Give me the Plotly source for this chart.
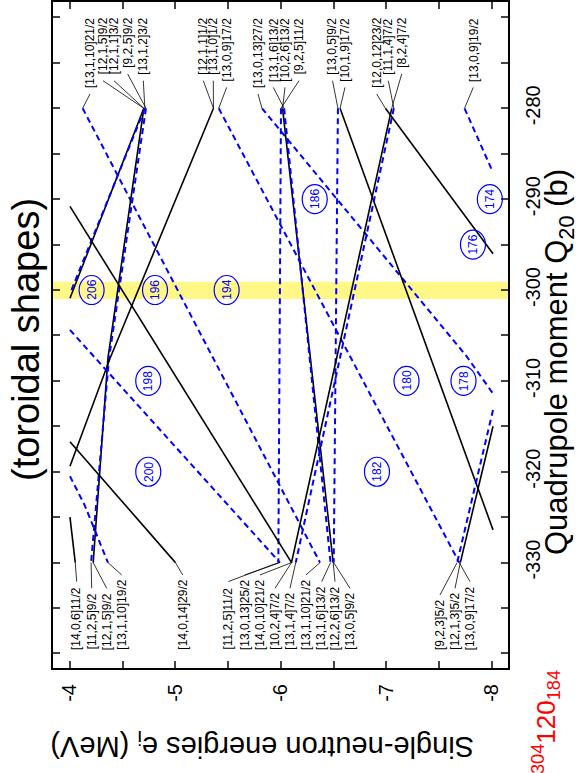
import plotly.graph_objects as go

# ---------------- data ----------------
E_TICKS = [-4, -5, -6, -7, -8]
Q_TICKS = [-330, -320, -310, -300, -290, -280]

# single-neutron levels, points ordered from the Q20=-280 side downwards
lev_E = [
    [-4.12, -6.37],            # [13,1,10]21/2
    [-4.70, -4.36, -4.22],     # [12,1,5]9/2
    [-4.70, -4.00],            # [12,1,1]3/2
    [-4.72, -4.37, -4.20],     # [9,2,5]9/2 -> [11,2,5]9/2
    [-4.71, -4.00],            # [13,1,2]3/2
    [-5.36, -4.38, -4.00],     # [12,1,1]1/2
    [-5.41, -7.69],            # [13,0,9]17/2
    [-5.82, -7.76, -8.01],     # [13,0,13]27/2
    [-6.00, -5.975],           # [9,2,5]11/2 -> [11,2,5]11/2
    [-6.015, -6.495],          # [10,2,6]13/2 -> [12,2,6]13/2
    [-6.03, -6.47],            # [13,1,6]13/2
    [-6.54, -6.50],            # [13,0,5]9/2
    [-6.56, -8.01],            # [10,1,9]17/2
    [-6.99, -8.01],            # [12,0,12]23/2
    [-7.05, -6.10],            # [8,2,4]7/2 -> [10,2,4]7/2
    [-7.07, -6.14],            # [11,1,4]7/2 -> [13,1,4]7/2
    [-7.74, -8.00],            # [13,0,9]19/2
    [-4.00, -4.05],            # [14,0,6]11/2
    [-4.00, -4.14, -4.36],     # [13,1,10]19/2
    [-4.00, -5.00],            # [14,0,14]29/2
    [-4.00, -5.99],            # [13,0,13]25/2
    [-4.00, -6.10],            # [14,0,10]21/2
    [-8.01, -7.67],            # [9,2,3]5/2
    [-8.01, -7.70],            # [12,1,3]5/2
]
lev_Q = [
    [-280, -330],
    [-280, -307.5, -330],
    [-280, -300.9],
    [-280, -307.5, -330],
    [-280, -300.4],
    [-280, -307.5, -319.4],
    [-280, -330],
    [-280, -307.3, -311.4],
    [-280, -330],
    [-280, -330],
    [-280, -330],
    [-280, -330],
    [-280, -326.4],
    [-280, -296.0],
    [-280, -330],
    [-280, -330],
    [-280, -286.8],
    [-325.0, -330],
    [-320.5, -323.7, -330],
    [-316.7, -330],
    [-304.4, -330],
    [-290.8, -330],
    [-313.2, -330],
    [-315.0, -330],
]
lev_parity = ['-', '+', '+', '-', '-', '+', '-', '-', '-', '+', '-', '-',
              '+', '+', '+', '-', '-', '+', '-', '+', '-', '+', '-', '+']

top_text = ['[13,1,10]21/2', '[12,1,5]9/2', '[12,1,1]3/2', '[9,2,5]9/2', '[13,1,2]3/2',
            '[12,1,1]1/2', '[13,1,0]1/2', '[13,0,9]17/2', '[13,0,13]27/2', '[13,1,6]13/2',
            '[10,2,6]13/2', '[9,2,5]11/2', '[13,0,5]9/2', '[10,1,9]17/2', '[12,0,12]23/2',
            '[11,1,4]7/2', '[8,2,4]7/2', '[13,0,9]19/2']
top_lev = [0, 1, 2, 3, 4, 5, 5, 6, 7, 10, 9, 8, 11, 12, 13, 15, 14, 16]

bot_text = ['[14,0,6]11/2', '[11,2,5]9/2', '[12,1,5]9/2', '[13,1,10]19/2', '[14,0,14]29/2',
            '[11,2,5]11/2', '[13,0,13]25/2', '[14,0,10]21/2', '[10,2,4]7/2', '[13,1,4]7/2',
            '[13,1,10]21/2', '[13,1,6]13/2', '[12,2,6]13/2', '[13,0,5]9/2', '[9,2,3]5/2',
            '[12,1,3]5/2', '[13,0,9]17/2']
bot_lev = [17, 3, 1, 18, 19, 8, 20, 21, 14, 15, 0, 10, 9, 11, 22, 23, 6]

gap_N = [206, 196, 194, 198, 200, 186, 176, 174, 182, 180, 178]
gap_E = [-4.205, -4.806, -5.485, -4.742, -4.742, -6.32, -7.82, -7.98, -6.91, -7.19, -7.73]
gap_Q = [-300, -300, -300, -310, -320, -290, -295, -290, -320, -310, -310]

BAND_Q = [-301.0, -299.1]

# ---------------- layout geometry (pixels) ----------------
W, H = 578, 773
PL, PR, PT, PB = 53, 508, 2, 668
E_RANGE = [-3.839, -8.152]
Q_RANGE = [-341.6, -268.3]

top_x_px = [90, 103, 114, 127.7, 143.3, 203.3, 213.3, 226.7, 258, 273.3, 285, 299,
            332.5, 345, 376.7, 388.3, 401.7, 473.3]
bot_x_px = [76.7, 91.7, 106.7, 121.7, 182.7, 228.3, 245, 260, 275, 290, 306, 321.7,
            335, 350, 440, 455, 470]
LAB_FS = 12
TOP_Y0 = 18
BOT_Y1 = 650


def px2E(x):
    return E_RANGE[0] + (x - PL) / (PR - PL) * (E_RANGE[1] - E_RANGE[0])


def py2Q(y):
    return Q_RANGE[1] + (y - PT) / (PB - PT) * (Q_RANGE[0] - Q_RANGE[1])


def paper(x, y):
    return (x - PL) / (PR - PL), (PB - y) / (PB - PT)


def text_len(s, fs):
    w = 0
    for c in s:
        w += 0.278 if c in '[],/' else 0.556
    return w * fs


fig = go.Figure()

# levels
for es, qs, p in zip(lev_E, lev_Q, lev_parity):
    if p == '-':
        line = dict(color='#0000FF', width=2, dash='6px,4px')
    else:
        line = dict(color='black', width=1.6)
    fig.add_trace(go.Scatter(x=es, y=qs, mode='lines', line=line,
                             hoverinfo='skip', showlegend=False))

annotations = []
lx, ly = [], []
# top labels
for txt, li, xp in zip(top_text, top_lev, top_x_px):
    L = text_len(txt, LAB_FS)
    annotations.append(dict(x=px2E(xp), y=py2Q(TOP_Y0 + L / 2), xref='x', yref='y',
                            xanchor='center', yanchor='middle',
                            text=txt, textangle=-90, showarrow=False,
                            font=dict(size=LAB_FS, color='black', family='Liberation Sans')))
    lx += [px2E(xp), lev_E[li][0], None]
    ly += [py2Q(TOP_Y0 + L + 6), lev_Q[li][0], None]
# bottom labels
for txt, li, xp in zip(bot_text, bot_lev, bot_x_px):
    L = text_len(txt, LAB_FS)
    annotations.append(dict(x=px2E(xp), y=py2Q(BOT_Y1 - L / 2), xref='x', yref='y',
                            xanchor='center', yanchor='middle',
                            text=txt, textangle=-90, showarrow=False,
                            font=dict(size=LAB_FS, color='black', family='Liberation Sans')))
    lx += [px2E(xp), lev_E[li][-1], None]
    ly += [py2Q(BOT_Y1 - L - 5), lev_Q[li][-1], None]

fig.add_trace(go.Scatter(x=lx, y=ly, mode='lines', line=dict(color='black', width=0.8),
                         hoverinfo='skip', showlegend=False))

shapes = [dict(type='rect', xref='paper', yref='y', x0=0, x1=1, y0=BAND_Q[0], y1=BAND_Q[1],
               fillcolor='rgba(255,245,70,0.65)', line=dict(width=0), layer='below')]

for n, e, q in zip(gap_N, gap_E, gap_Q):
    shapes.append(dict(type='circle', xref='x', yref='y', xsizemode='pixel', ysizemode='pixel',
                       xanchor=e, yanchor=q, x0=-12.5, x1=12.5, y0=-14.5, y1=14.5,
                       line=dict(color='#0000FF', width=1.2)))
    annotations.append(dict(x=e, y=q, xref='x', yref='y', text=str(n), textangle=-90,
                            xanchor='center', yanchor='middle', showarrow=False,
                            font=dict(size=12, color='#0000FF', family='Liberation Sans')))


def free_text(xp, yp, text, angle, size, color='black'):
    px_, py_ = paper(xp, yp)
    annotations.append(dict(x=px_, y=py_, xref='paper', yref='paper', text=text,
                            xanchor='center', yanchor='middle', textangle=angle,
                            showarrow=False,
                            font=dict(size=size, color=color, family='Liberation Sans')))


free_text(26, 340, '(toroidal shapes)', -90, 38)
free_text(559, 362, 'Quadrupole moment Q<sub>20</sub> (b)', -90, 31)
free_text(262, 745, 'Single-neutron energies e<sub>i</sub> (MeV)', 180, 29)
free_text(546, 722, '<sup>304</sup>120<sub>184</sub>', -90, 26, '#FF0000')

tick_common = dict(ticks='inside', ticklen=7, tickwidth=1.5, showline=True, linewidth=2,
                   linecolor='black', mirror='allticks', tickangle=-90, showgrid=False,
                   zeroline=False, automargin=False, ticklabelstandoff=6,
                   tickfont=dict(size=20, color='black', family='Liberation Sans'))

fig.update_layout(
    width=W, height=H,
    margin=dict(l=PL, r=W - PR, t=PT, b=H - PB, pad=0, autoexpand=False),
    paper_bgcolor='white', plot_bgcolor='white',
    shapes=shapes, annotations=annotations,
    xaxis=dict(range=E_RANGE, tickvals=E_TICKS, ticktext=[str(v) for v in E_TICKS],
               minor=dict(dtick=0.5, ticks='inside', ticklen=7, tickwidth=1.5,
                          tick0=E_TICKS[0], showgrid=False),
               **tick_common),
    yaxis=dict(range=Q_RANGE, side='right', tickvals=Q_TICKS,
               ticktext=[str(v) for v in Q_TICKS],
               minor=dict(dtick=5, ticks='inside', ticklen=7, tickwidth=1.5,
                          tick0=Q_TICKS[0], showgrid=False),
               **tick_common),
)

fig.write_html('out.html')
